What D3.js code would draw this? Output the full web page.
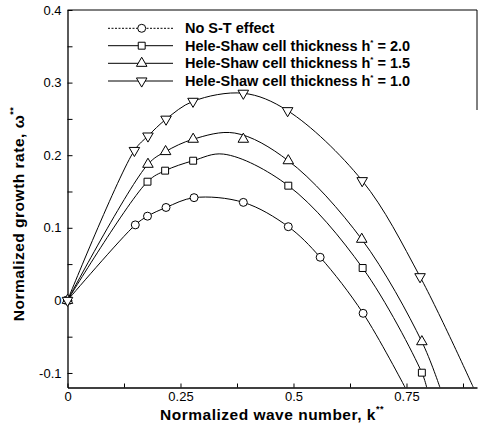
<!DOCTYPE html>
<html>
<head>
<meta charset="utf-8">
<script src="https://cdn.jsdelivr.net/npm/d3@7"></script>
<style>
  body { margin: 0; background: #fff; }
  svg { font-family: "Liberation Sans", Arial, sans-serif; }
</style>
</head>
<body>
<svg id="chart" width="479" height="427"></svg>
<script>
// marker values (k**, omega**)
const kNoST = [0, 0.150, 0.177, 0.218, 0.280, 0.389, 0.4885, 0.559, 0.654];
const wNoST = [0, 0.104, 0.116, 0.128, 0.1415, 0.135, 0.1015, 0.0594, -0.0178];
const kH20 = [0, 0.177, 0.216, 0.278, 0.4885, 0.653, 0.784];
const wH20 = [0, 0.1635, 0.1787, 0.1924, 0.158, 0.0446, -0.0996];
const kH15 = [0, 0.178, 0.217, 0.278, 0.389, 0.4885, 0.651, 0.784];
const wH15 = [0, 0.1875, 0.205, 0.222, 0.222, 0.1924, 0.0842, -0.0569];
const kH10 = [0, 0.148, 0.178, 0.218, 0.2777, 0.389, 0.487, 0.652, 0.780];
const wH10 = [0, 0.2065, 0.2264, 0.2496, 0.2742, 0.2853, 0.2613, 0.1649, 0.0326];

// points along the fitted curves
const lineNoST = [[0,0],[0.150,0.104],[0.177,0.116],[0.218,0.128],[0.280,0.1415],[0.389,0.135],[0.4885,0.1015],[0.559,0.0594],[0.654,-0.0178],[0.747,-0.12]];
const lineH20 = [[0,0],[0.177,0.1635],[0.216,0.1787],[0.278,0.1924],[0.345,0.2015],[0.4885,0.158],[0.653,0.0446],[0.784,-0.0996],[0.7947,-0.12]];
const lineH15 = [[0,0],[0.178,0.1875],[0.217,0.205],[0.278,0.222],[0.37,0.2305],[0.4885,0.1924],[0.651,0.0842],[0.784,-0.0569],[0.824,-0.12]];
const lineH10 = [[0,0],[0.148,0.2065],[0.178,0.2264],[0.218,0.2496],[0.2777,0.2742],[0.389,0.2853],[0.487,0.2613],[0.652,0.1649],[0.780,0.0326],[0.898,-0.12]];

const legendLabels = ["No S-T effect", "Hele-Shaw cell thickness h", "Hele-Shaw cell thickness h", "Hele-Shaw cell thickness h"];
const legendValues = ["", " = 2.0", " = 1.5", " = 1.0"];

const xMajor = [0, 0.25, 0.5, 0.75];
const xMinor = [0.125, 0.375, 0.625, 0.875];
const yMajor = [-0.1, 0, 0.1, 0.2, 0.3, 0.4];
const yMinor = [-0.05, 0.05, 0.15, 0.25, 0.35];

const svg = d3.select("#chart");
const plotLeft = 67.5, plotRight = 477, plotTop = 10, plotBottom = 387.5;

const x = d3.scaleLinear().domain([0, 0.906]).range([plotLeft, plotRight]);
const y = d3.scaleLinear().domain([-0.12, 0.4]).range([plotBottom, plotTop]);

svg.append("clipPath").attr("id", "plot")
  .append("rect")
  .attr("x", plotLeft).attr("y", plotTop)
  .attr("width", plotRight - plotLeft).attr("height", plotBottom - plotTop);

// frame (top and partial right, as in the scan)
svg.append("line").attr("x1", plotLeft).attr("x2", plotRight).attr("y1", plotTop).attr("y2", plotTop)
  .attr("stroke", "#000").attr("stroke-width", 1);
svg.append("line").attr("x1", plotRight).attr("x2", plotRight).attr("y1", plotTop).attr("y2", 110)
  .attr("stroke", "#000").attr("stroke-width", 1);

// axes
svg.append("g")
  .attr("transform", `translate(${plotLeft},0)`)
  .call(d3.axisLeft(y).tickValues(yMajor).tickSizeInner(-5).tickSizeOuter(0)
    .tickPadding(6).tickFormat(d => String(d)));
svg.append("g")
  .attr("transform", `translate(${plotLeft},0)`)
  .call(d3.axisLeft(y).tickValues(yMinor).tickSizeInner(-5).tickSizeOuter(0).tickFormat(""))
  .select(".domain").remove();

svg.append("g")
  .attr("transform", `translate(0,${plotBottom})`)
  .call(d3.axisBottom(x).tickValues(xMajor).tickSizeInner(-4).tickSizeOuter(0)
    .tickPadding(4).tickFormat(d => String(d)));
svg.append("g")
  .attr("transform", `translate(0,${plotBottom})`)
  .call(d3.axisBottom(x).tickValues(xMinor).tickSizeInner(-4).tickSizeOuter(0).tickFormat(""))
  .select(".domain").remove();

svg.selectAll(".domain").attr("stroke-width", 1.3);
svg.selectAll(".tick text").attr("font-size", 13).attr("font-family", "Liberation Sans, Arial, sans-serif")
  .attr("fill", "#000");

// axis titles
const xt = svg.append("text")
  .attr("x", 272).attr("y", 420)
  .attr("text-anchor", "middle")
  .attr("font-size", 15.5).attr("font-weight", "bold")
  .attr("letter-spacing", 0.5)
  .text("Normalized wave number, k");
xt.append("tspan").attr("font-size", 9).attr("dy", -8).text("**");

const yt = svg.append("text")
  .attr("transform", "translate(24,214) rotate(-90)")
  .attr("text-anchor", "middle")
  .attr("font-size", 15.5).attr("font-weight", "bold")
  .attr("letter-spacing", 0.5)
  .text("Normalized growth rate, ω");
yt.append("tspan").attr("font-size", 9).attr("dy", -8).text("**");

// curves
const line = d3.line()
  .x(d => x(d[0])).y(d => y(d[1]))
  .curve(d3.curveCatmullRom.alpha(0.5));

const lines = [lineNoST, lineH20, lineH15, lineH10];
svg.append("g").attr("clip-path", "url(#plot)")
  .selectAll("path.curve")
  .data(lines)
  .enter()
  .append("path")
  .attr("class", "curve")
  .attr("d", line)
  .attr("fill", "none")
  .attr("stroke", "#000")
  .attr("stroke-width", 1);

// markers
const symbols = [
  d3.symbol().type(d3.symbolCircle).size(50),
  d3.symbol().type(d3.symbolSquare).size(48),
  d3.symbol().type(d3.symbolTriangle).size(48),
  d3.symbol().type(d3.symbolTriangle).size(48)
];
const rot = [0, 0, 0, 180];
const ks = [kNoST, kH20, kH15, kH10];
const ws = [wNoST, wH20, wH15, wH10];

ks.forEach((kArr, s) => {
  svg.append("g")
    .selectAll("path.mk")
    .data(kArr.map((k, i) => [k, ws[s][i]]))
    .enter()
    .append("path")
    .attr("class", "mk")
    .attr("d", symbols[s])
    .attr("transform", d => `translate(${x(d[0])},${y(d[1])}) rotate(${rot[s]})`)
    .attr("fill", "#fff")
    .attr("stroke", "#000")
    .attr("stroke-width", 1);
});

// legend
const rowsY = [28.3, 45.7, 63.3, 81];
const legend = svg.selectAll(".legend")
  .data(legendLabels)
  .enter()
  .append("g")
  .attr("class", "legend")
  .attr("transform", (d, i) => `translate(0,${rowsY[i]})`);

legend.append("line")
  .attr("x1", 108).attr("x2", 173)
  .attr("stroke", "#000").attr("stroke-width", 1)
  .attr("stroke-dasharray", (d, i) => i === 0 ? "2,1.5" : null);

legend.append("path")
  .attr("d", (d, i) => symbols[i]())
  .attr("transform", (d, i) => `translate(141.7,0) rotate(${rot[i]})`)
  .attr("fill", "#fff").attr("stroke", "#000");

const lt = legend.append("text")
  .attr("x", 185).attr("y", 5)
  .attr("font-size", 14.5).attr("font-weight", "bold")
  .text(d => d);
lt.filter((d, i) => i > 0).append("tspan").attr("font-size", 8).attr("dy", -6).text("*");
lt.filter((d, i) => i > 0).append("tspan").attr("dy", 6).text((d, i) => legendValues[i + 1]);
</script>
</body>
</html>
